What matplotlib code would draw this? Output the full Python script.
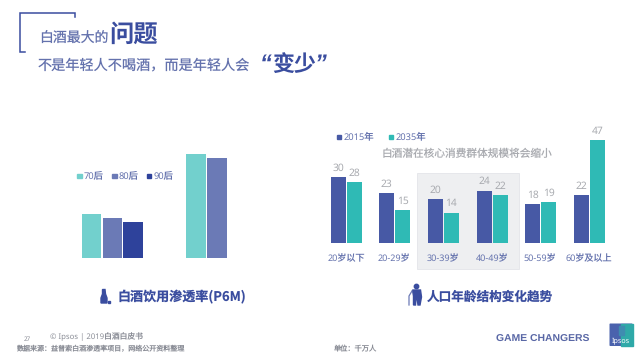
import numpy as np
import matplotlib
matplotlib.use("Agg")
import matplotlib.pyplot as plt
from matplotlib.patches import Rectangle, Circle, Polygon, FancyBboxPatch

plt.rcParams['font.family'] = ['Noto Sans', 'Noto Sans CJK SC', 'DejaVu Sans']
plt.rcParams['text.hinting'] = 'no_hinting'

# left chart (no printed values, read as rough heights)
left_series = ["70后", "80后", "90后"]
left_group1 = [44, 40, 36]
left_group2 = [104, 100]

# right chart
age_labels = ["20岁以下", "20-29岁", "30-39岁", "40-49岁", "50-59岁", "60岁及以上"]
year_labels = ["2015年", "2035年"]
values_2015 = [30, 23, 20, 24, 18, 22]
values_2035 = [28, 15, 14, 22, 19, 47]

W, H = 640, 355
NAVY = "#3a4d9f"
TEXT_BLUE = "#6472ad"
GREY = "#a9abb0"
FOOT = "#8a8d96"
LEFT_COLS = ["#72d0cd", "#6b7ab6", "#2e429b"]
RIGHT_COLS = ["#4759a5", "#2fbab5"]
CJK_BOLD = ["Noto Sans CJK SC", "DejaVu Sans"]

fig = plt.figure(figsize=(6.4, 3.55), dpi=100, facecolor="white")

# full page layer in pixel coords
bg = fig.add_axes([0, 0, 1, 1], zorder=0)
bg.set_xlim(0, W)
bg.set_ylim(H, 0)
bg.axis("off")

# bracket top left
bg.plot([74.5, 74.5, 20, 20, 25], [17, 13, 13, 52, 52], color=NAVY, lw=1.1,
        solid_joinstyle="miter")

# headings
bg.text(39, 38.5, "白酒最大的", fontsize=10, color=TEXT_BLUE, va="center")
bg.text(109.5, 35, "问题", fontsize=17.5, color=NAVY, va="center", fontweight="bold", family=CJK_BOLD)
bg.text(38, 65.5, "不是年轻人不喝酒，而是年轻人会", fontsize=10.2, color=TEXT_BLUE, va="center")
bg.text(271.8, 64.5, "变少", fontsize=15.8, color=NAVY, va="center", fontweight="bold", family=CJK_BOLD)
bg.text(259.5, 65, "“", fontsize=17, color=NAVY, va="center", fontweight="bold", style="italic",
        family="Liberation Sans")
bg.text(314.5, 65, "”", fontsize=17, color=NAVY, va="center", fontweight="bold", style="italic",
        family="Liberation Sans")

# grey panel behind 30-49
bg.add_patch(Rectangle((417.3, 172.5), 101.7, 96, facecolor="#eeeff1", edgecolor="#e4e5e9", lw=0.6))

# left chart
ax1 = fig.add_axes([80 / W, 1 - 257.7 / H, 150 / W, 110 / H], zorder=2)
ax1.set_xlim(80, 230)
ax1.set_ylim(0, 110)
ax1.axis("off")
bar_w = 19.6
x1 = [91.5, 112.5, 133]
x2 = [196, 216.8]
ax1.bar(x1, left_group1, width=bar_w, color=LEFT_COLS)
ax1.bar(x2, left_group2, width=bar_w, color=LEFT_COLS[:2])

# left legend
for lx, name, col in zip([77, 112, 146.5], left_series, LEFT_COLS):
    bg.add_patch(Rectangle((lx, 173.5), 4.5, 4.5, color=col))
    bg.text(lx + 7, 175.5, name, fontsize=6.7, color=TEXT_BLUE, va="center")

# right chart
ax2 = fig.add_axes([320 / W, 1 - 243.3 / H, 300 / W, 110 / H], zorder=2)
ax2.set_xlim(320, 620)
ax2.set_ylim(0, 110 / 2.2)
ax2.axis("off")
centres = np.array([346.5, 394.7, 443.3, 492.2, 540.7, 589.3])
b1 = ax2.bar(centres - 8, values_2015, width=15.3, color=RIGHT_COLS[0])
b2 = ax2.bar(centres + 8, values_2035, width=15.3, color=RIGHT_COLS[1])
for bars in (b1, b2):
    for b in bars:
        h = b.get_height()
        ax2.annotate(str(h), (b.get_x() + b.get_width() / 2, h), xytext=(0, 2.6),
                     textcoords="offset points", ha="center", va="bottom",
                     fontsize=7.4, color=GREY, annotation_clip=False)

for c, lab in zip(centres, age_labels):
    bg.text(c - 0.5, 258.5, lab, fontsize=6.5, color=TEXT_BLUE, ha="center", va="center")

# right legend
for lx, name, col in zip([336.5, 389], year_labels, RIGHT_COLS):
    bg.add_patch(Rectangle((lx, 134.5), 4, 4, color=col))
    bg.text(lx + 7, 136.5, name, fontsize=6.7, color=TEXT_BLUE, va="center")

bg.text(382, 154, "白酒潜在核心消费群体规模将会缩小", fontsize=7.7, color=GREY, va="center")

# chart captions
bg.text(118, 297, "白酒饮用渗透率(P6M)", fontsize=9.4, color=NAVY, va="center", fontweight="bold", family=CJK_BOLD)
bg.text(427, 296.5, "人口年龄结构变化趋势", fontsize=9.1, color=NAVY, va="center", fontweight="bold", family=CJK_BOLD)

# bottle icon
bg.add_patch(Polygon([[102.5, 289.5], [105, 289.5], [105.5, 294], [107, 298], [107, 303], [101, 303], [101, 298], [102.5, 294]],
                     closed=True, color=NAVY))
bg.add_patch(Rectangle((107.5, 300.5), 2.5, 2.5, color=NAVY))

# old person icon
bg.add_patch(Circle((416.5, 286.5), 2.2, color=NAVY))
bg.add_patch(Polygon([[412.5, 290], [420.5, 290], [421.5, 297], [420, 305], [418, 305], [417, 298],
                      [416, 298], [415.5, 305], [413.5, 305], [413.5, 296]], closed=True, color=NAVY))
bg.plot([412, 409, 409], [291, 296, 305], color="#6b7ab6", lw=0.9)

# footer
bg.text(27.7, 339.3, "27", fontsize=4.5, color=FOOT, va="center", ha="center")
bg.text(50.5, 336.7, "© Ipsos | 2019白酒白皮书", fontsize=5.6, color=FOOT, va="center")
bg.text(16, 349.7, "数据来源：益普索白酒渗透率项目，网络公开资料整理", fontsize=5.05, color=FOOT, va="center")
bg.text(334, 349.7, "单位：千万人", fontsize=5.2, color=FOOT, va="center")
bg.text(496.5, 339, "GAME CHANGERS", fontsize=7.5, color="#5a68a6", va="center", fontweight="bold",
        family="Liberation Sans")

# logo
bg.add_patch(FancyBboxPatch((609.5, 323.5), 23, 22.5, boxstyle="round,pad=0,rounding_size=0.8",
                            facecolor="#4a62ad", edgecolor="none"))
bg.add_patch(Rectangle((621, 323.5), 11.5, 22.5, color="#2fa9a8"))
bg.add_patch(Rectangle((618.5, 326), 5, 9, color="#3f8cb0"))
bg.text(621, 340.5, "Ipsos", fontsize=5.2, color="white", ha="center", va="center", fontweight="bold")

fig.savefig("out.png", dpi=100)
